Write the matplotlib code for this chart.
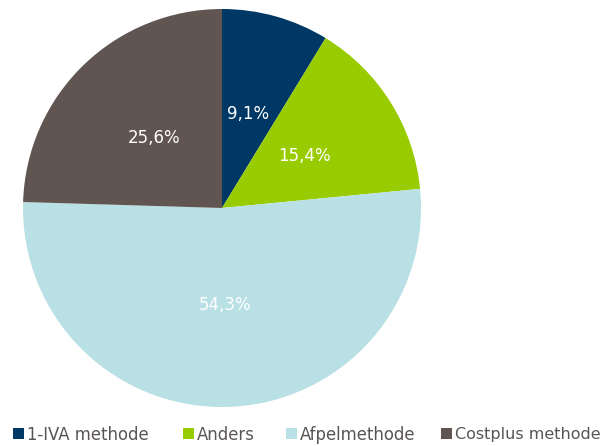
import matplotlib
matplotlib.use("Agg")
import matplotlib.pyplot as plt
import numpy as np

categories = ["1-IVA methode", "Anders", "Afpelmethode", "Costplus methode"]
values = [9.1, 15.4, 54.3, 25.6]
labels = ["9,1%", "15,4%", "54,3%", "25,6%"]
colors = ["#003865", "#99CC00", "#B9E0E4", "#605551"]

W, H = 606, 446
fig = plt.figure(figsize=(W / 100, H / 100), dpi=100)
cx, cy, r = 222, 208, 199
ax = fig.add_axes([(cx - r) / W, (H - cy - r) / H, 2 * r / W, 2 * r / H])

wedges, _ = ax.pie(values, colors=colors, startangle=90, counterclock=False,
                   radius=1, wedgeprops=dict(linewidth=0))
for w, lab in zip(wedges, labels):
    ang = np.deg2rad((w.theta1 + w.theta2) / 2)
    ax.text(0.49 * np.cos(ang), 0.49 * np.sin(ang), lab, ha="center", va="center",
            color="white", fontsize=12, family="DejaVu Sans")
ax.set_xlim(-1, 1)
ax.set_ylim(-1, 1)
ax.set_aspect("equal")
ax.axis("off")

leg_x = [13, 183, 286, 441]
leg_fs = [11.9, 11.9, 11.9, 11.5]
for w, cat, lx, fs in zip(wedges, categories, leg_x, leg_fs):
    em = fs * 100 / 72
    leg = fig.legend([w], [cat], loc="center left",
                     bbox_to_anchor=(lx / W, (H - 434.5) / H),
                     frameon=False, fontsize=fs, handlelength=11 / em, handleheight=11 / em,
                     handletextpad=3 / em, borderpad=0, borderaxespad=0)
    for t in leg.get_texts():
        t.set_color("#5a5555")

fig.savefig("out.png", dpi=100)
